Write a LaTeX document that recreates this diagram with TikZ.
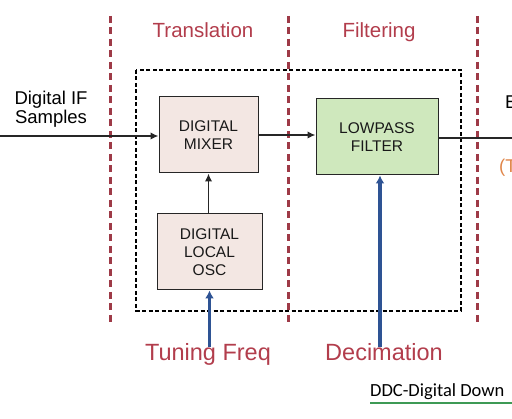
\documentclass[tikz,border=0pt]{standalone}
\usepackage{fontspec}
\setmainfont{Liberation Sans}
\newfontfamily\calfont{Carlito}
\usepackage{xcolor}
\usetikzlibrary{arrows.meta,positioning,calc}
\definecolor{ddcred}{HTML}{B23D4C}
\definecolor{ddcline}{HTML}{9E3A47}
\definecolor{ddcblue}{HTML}{2E5394}
\definecolor{ddcpink}{HTML}{F3E7E3}
\definecolor{ddcgreen}{HTML}{CFE8BD}
\definecolor{ddcorange}{HTML}{E0864A}
\definecolor{ddcunder}{HTML}{3E9A55}
\tikzset{
  px/.style={x=1pt, y=-1pt},
  d box/.style={draw=black!85, line width=1pt, align=center, minimum height=76pt, font=\fontsize{15.5}{18}\selectfont, text=black!90},
  d mix/.style={d box, fill=ddcpink},
  d lpf/.style={d box, fill=ddcgreen},
  d stage/.style={font=\fontsize{20.5}{24}\selectfont, text=ddcred, anchor=base},
  d ctrl/.style={font=\fontsize{23.5}{26}\selectfont, text=ddcred, inner sep=1pt, anchor=base},
  d txt/.style={font=\fontsize{18.5}{19}\selectfont, align=center, text=black},
  d sep/.style={ddcline, line width=3pt, dash pattern=on 7pt off 4.5pt},
  d frame/.style={black, line width=1.4pt, dash pattern=on 4pt off 2.5pt},
  d arr/.style={-{Latex[length=8pt,width=7.5pt]}, line width=1.8pt, black!85},
  d ctl/.style={-{Latex[length=8pt,width=9pt]}, line width=3.8pt, ddcblue},
}
\begin{document}
\begin{tikzpicture}[px]
\useasboundingbox (0,0) rectangle (512,419);
\clip (0,0) rectangle (512,419);
% ---- stage borders ----
\foreach \x in {110,288,477} \draw[d sep] (\x,16) -- (\x,322);
\draw[d frame] (136,70) rectangle (461,311);
% ---- stage titles ----
\node[d stage] (ttrans) at (203,38) {Translation};
\node[d stage] (tfilt) at (379,38) {Filtering};
% ---- blocks ----
\node[d mix, minimum width=99pt] (mixer) at (208.5,135) {DIGITAL\\MIXER};
\node[d mix, minimum width=105pt] (osc) at (209.5,252) {DIGITAL\\LOCAL\\OSC};
\node[d lpf, minimum width=122pt] (lpf) at (377,137) {LOWPASS\\FILTER};
% ---- in / out ----
\node[d txt] (samp) at (51,109) {Digital IF\\Samples};
\coordinate (in) at (0,136);
\coordinate (out) at (512,138);
\node[d txt, anchor=west, inner sep=0pt] (outa) at (505,102) {E};
\node[d txt, anchor=west, inner sep=0pt, text=ddcorange] (outb) at (499,168) {(T};
\draw[d arr] (in) -- (in -| mixer.west);
\draw[d arr] (mixer.east) -- (mixer.east -| lpf.west);
\draw[d arr] (osc.north -| mixer.south) -- (mixer.south);
\draw[line width=1.5pt, black!85] (lpf.east |- out) -- (out);
% ---- controls ----
\node[d ctrl] (tune) at (208,361) {Tuning Freq};
\node[d ctrl] (deci) at (384,361) {Decimation};
\draw[d ctl] ($(osc.south |- tune.north)+(0,4)$) -- (osc.south);
\draw[d ctl] ($(lpf.south |- deci.north)+(3,4)$) -- ($(lpf.south)+(3,0)$);
% ---- caption ----
\node[font=\calfont\fontsize{18.5}{20}\selectfont, anchor=base west, inner sep=0pt] (cap) at (370,397) {DDC-Digital Down};
\draw[ddcunder, line width=2.2pt] (cap.base west) ++(0,6) -- (512,403);
\end{tikzpicture}
\end{document}
